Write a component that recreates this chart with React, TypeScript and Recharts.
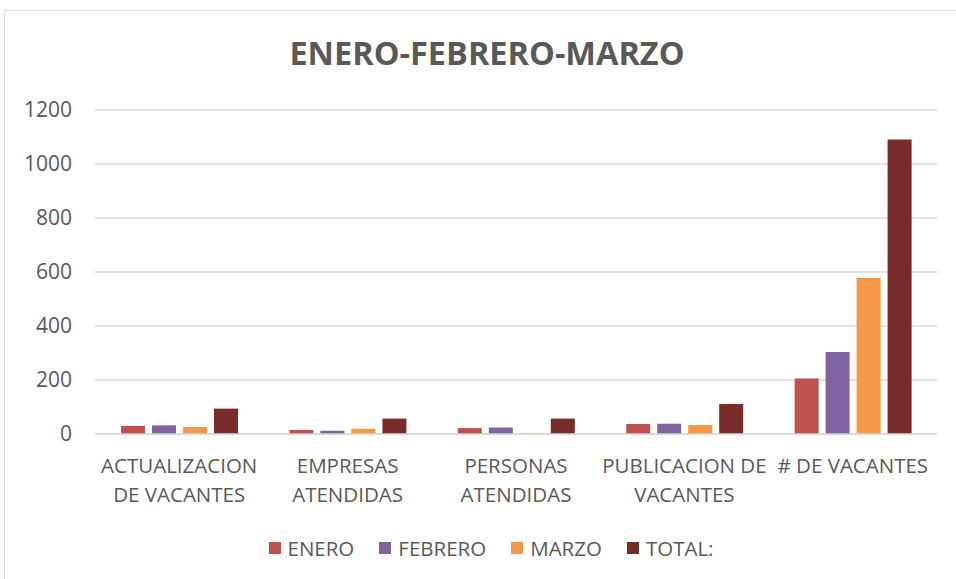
import React from "react";
import { BarChart, Bar, XAxis, YAxis, CartesianGrid } from "recharts";

// Values (Excel-style clustered columns)
const categories = [
  "ACTUALIZACION\nDE VACANTES",
  "EMPRESAS\nATENDIDAS",
  "PERSONAS\nATENDIDAS",
  "PUBLICACION DE\nVACANTES",
  "# DE VACANTES",
];
const enero = [30, 15, 22, 37, 206];
const febrero = [32, 12, 24, 38, 304];
const marzo = [26, 19, 4, 33, 578];
const total = [94, 57, 57, 111, 1091];
const yTicks = [0, 200, 400, 600, 800, 1000, 1200];

const seriesNames = ["ENERO", "FEBRERO", "MARZO", "TOTAL:"];
const seriesColors = ["#C0504D", "#8064A2", "#F79646", "#772C2A"];
const seriesKeys = ["enero", "febrero", "marzo", "total"];

const data = categories.map((name, i) => ({
  name,
  enero: enero[i],
  febrero: febrero[i],
  marzo: marzo[i],
  total: total[i],
}));

const FONT = "'Open Sans', sans-serif";
const TEXT = "#595959";

type TickProps = { x?: number; y?: number; payload?: { value: string } };

// multi-line category labels, centred under each group
const CategoryTick = ({ x = 0, y = 0, payload }: TickProps) => {
  const lines = (payload?.value ?? "").split("\n");
  return (
    <text x={x} y={y} textAnchor="middle" fill={TEXT} fontSize={20.5} fontFamily={FONT}>
      {lines.map((line, i) => (
        <tspan key={i} x={x} y={y + 31 + i * 29}>
          {line}
        </tspan>
      ))}
    </text>
  );
};

export default function App() {
  return (
    <div
      style={{
        position: "absolute",
        left: 0,
        top: 0,
        width: 956,
        height: 579,
        overflow: "hidden",
        background: "#fff",
        fontFamily: FONT,
      }}
    >
      {/* chart-area frame, right and bottom edges fall outside the picture */}
      <div
        style={{
          position: "absolute",
          left: 4,
          top: 10,
          width: 1000,
          height: 700,
          border: "1px solid #D9D9D9",
          boxSizing: "border-box",
        }}
      />
      <div
        style={{
          position: "absolute",
          left: 0,
          width: 974,
          top: 33,
          textAlign: "center",
          fontSize: 32.5,
          fontWeight: 700,
          color: TEXT,
          lineHeight: "40px",
        }}
      >
        ENERO-FEBRERO-MARZO
      </div>

      <div style={{ position: "absolute", left: 0, top: 0 }}>
        <BarChart
          width={956}
          height={579}
          data={data}
          margin={{ top: 110, right: 19, bottom: 0, left: 0 }}
          barSize={24}
          barGap={7}
        >
          <CartesianGrid vertical={false} stroke="#D9D9D9" strokeWidth={1.3} />
          <XAxis
            dataKey="name"
            height={145}
            interval={0}
            tickLine={false}
            axisLine={{ stroke: "#D9D9D9", strokeWidth: 1.3 }}
            tick={<CategoryTick />}
          />
          <YAxis
            width={95}
            domain={[0, 1200]}
            ticks={yTicks}
            interval={0}
            tickLine={false}
            axisLine={false}
            tickSize={0}
            tickMargin={23}
            tick={{ fontSize: 21, fill: TEXT, fontFamily: FONT }}
          />
          {seriesKeys.map((k, i) => (
            <Bar
              key={k}
              dataKey={k}
              name={seriesNames[i]}
              fill={seriesColors[i]}
              isAnimationActive={false}
            />
          ))}
        </BarChart>
      </div>

      {/* legend */}
      <div
        style={{
          position: "absolute",
          left: 0,
          width: 982,
          top: 534,
          display: "flex",
          justifyContent: "center",
          gap: 25,
          fontSize: 20.5,
          color: TEXT,
          lineHeight: "28px",
        }}
      >
        {seriesNames.map((n, i) => (
          <div key={n} style={{ display: "flex", alignItems: "center", gap: 7 }}>
            <span style={{ width: 12, height: 12, background: seriesColors[i], display: "inline-block" }} />
            <span>{n}</span>
          </div>
        ))}
      </div>
    </div>
  );
}
